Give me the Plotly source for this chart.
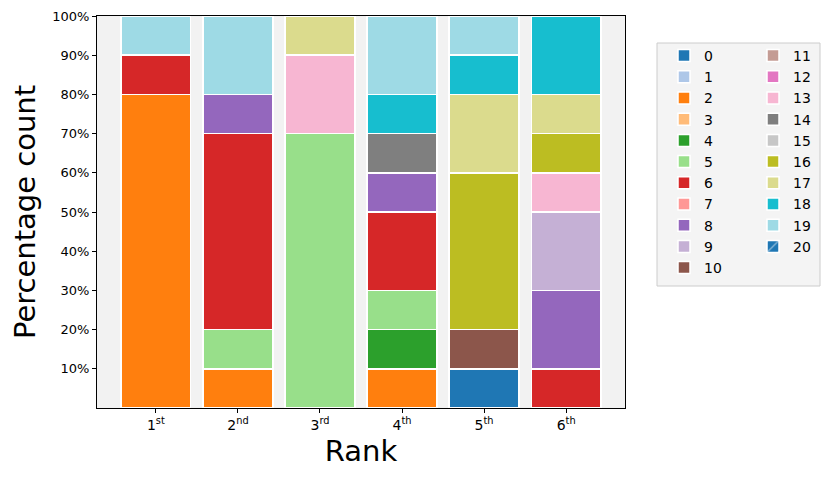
import plotly.graph_objects as go

ranks = [0, 1, 2, 3, 4, 5]
rank_labels = ["1<sup>st</sup>", "2<sup>nd</sup>", "3<sup>rd</sup>", "4<sup>th</sup>", "5<sup>th</sup>", "6<sup>th</sup>"]
categories = [str(i) for i in range(21)]

# percentage per category for each rank (None = absent)
values = {
    "0":  [None, None, None, None, 10, None],
    "1":  [None, None, None, None, None, None],
    "2":  [80, 10, None, 10, None, None],
    "3":  [None, None, None, None, None, None],
    "4":  [None, None, None, 10, None, None],
    "5":  [None, 10, 70, 10, None, None],
    "6":  [10, 50, None, 20, None, 10],
    "7":  [None, None, None, None, None, None],
    "8":  [None, 10, None, 10, None, 20],
    "9":  [None, None, None, None, None, 20],
    "10": [None, None, None, None, 10, None],
    "11": [None, None, None, None, None, None],
    "12": [None, None, None, None, None, None],
    "13": [None, None, 20, None, None, 10],
    "14": [None, None, None, 10, None, None],
    "15": [None, None, None, None, None, None],
    "16": [None, None, None, None, 40, 10],
    "17": [None, None, 10, None, 20, 10],
    "18": [None, None, None, 10, 10, 20],
    "19": [10, 20, None, 20, 10, None],
    "20": [None, None, None, None, None, None],
}

colors = ["#1f77b4", "#aec7e8", "#ff7f0e", "#ffbb78", "#2ca02c", "#98df8a", "#d62728",
          "#ff9896", "#9467bd", "#c5b0d5", "#8c564b", "#c49c94", "#e377c2", "#f7b6d2",
          "#7f7f7f", "#c7c7c7", "#bcbd22", "#dbdb8d", "#17becf", "#9edae5", "#1f77b4"]

fig = go.Figure()
for i, cat in enumerate(categories):
    marker = dict(color=colors[i], line=dict(color="white", width=1.5))
    if cat == "20":
        marker["pattern"] = dict(shape="/", fgcolor="white", bgcolor=colors[i], solidity=0.15)
    fig.add_trace(go.Bar(
        x=ranks, y=values[cat], name=cat, marker=marker, width=0.85,
        legend="legend" if i <= 10 else "legend2",
        showlegend=True,
    ))

# page has an 8px body margin; plot area in window px: x 97..625, y 16..408
def px2paper_x(p):
    return (p - 97) / 528.0

def px2paper_y(p):
    return (408 - p) / 392.0

fig.add_shape(type="rect", xref="paper", yref="paper",
              x0=px2paper_x(657), x1=px2paper_x(820), y0=px2paper_y(286), y1=px2paper_y(43),
              fillcolor="#f4f4f4", line=dict(color="#cccccc", width=1), layer="below")

legend_common = dict(bgcolor="rgba(0,0,0,0)", borderwidth=0, xanchor="left", yanchor="top",
                     font=dict(family="DejaVu Sans", size=14, color="black"),
                     traceorder="normal",
                     tracegroupgap=0, itemclick=False, itemdoubleclick=False)

fig.update_layout(
    barmode="stack",
    width=822, height=472,
    margin=dict(l=89, r=205, t=8, b=72, autoexpand=False),
    paper_bgcolor="white",
    plot_bgcolor="#f2f2f2",
    font=dict(family="DejaVu Sans", color="black"),
    legend=dict(x=px2paper_x(664), y=px2paper_y(40), **legend_common),
    legend2=dict(x=px2paper_x(753), y=px2paper_y(40), **legend_common),
    xaxis=dict(
        range=[-0.7175, 5.7175], tickvals=ranks, ticktext=rank_labels,
        showline=True, linecolor="black", linewidth=1, mirror=True,
        ticks="outside", ticklen=4, tickcolor="black", automargin=False,
        tickfont=dict(size=14), showgrid=False, zeroline=False,
        title=dict(text="Rank", font=dict(size=29), standoff=8),
    ),
    yaxis=dict(
        range=[0, 100], tickvals=[10, 20, 30, 40, 50, 60, 70, 80, 90, 100],
        ticktext=[f"{v}%" for v in [10, 20, 30, 40, 50, 60, 70, 80, 90, 100]],
        showline=True, linecolor="black", linewidth=1, mirror=True,
        ticks="outside", ticklen=4, tickcolor="black", automargin=False,
        tickfont=dict(size=13), showgrid=False, zeroline=False,
        title=dict(text="Percentage count", font=dict(size=29), standoff=12),
    ),
)

fig.write_html("out.html")
